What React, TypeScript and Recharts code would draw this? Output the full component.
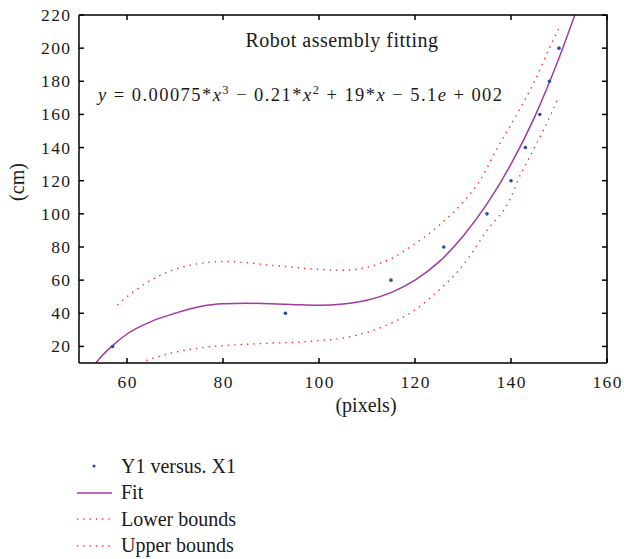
import { ComposedChart, Legend, Line, Scatter, XAxis, YAxis } from "recharts";

const FONT = "'Liberation Serif', 'Times New Roman', serif";

// measured points (Y1 versus X1)
const pointX = [57, 93, 115, 126, 135, 140, 143, 146, 148, 150];
const pointY = [20, 40, 60, 80, 100, 120, 140, 160, 180, 200];

// cubic fit
const fitX = [53.5, 55, 57, 60, 65, 70, 75, 80, 85, 90, 95, 100, 105, 110, 115, 120, 125, 130, 135, 140, 145, 150, 153.3];
const fitY = [10, 15, 20.5, 27.5, 35, 40, 44, 45.8, 46, 45.8, 45.2, 44.8, 45.6, 47.9, 52.5, 60, 71, 86.5, 106, 130, 159, 194, 220];

// prediction bounds
const lowerX = [64, 65, 70, 75, 80, 85, 90, 95, 100, 105, 110, 115, 120, 125, 130, 135, 140, 141.4, 144.9, 148.3, 150];
const lowerY = [11.5, 12.5, 16.5, 19, 20.5, 21.3, 22, 22.5, 23.5, 25, 28.5, 34, 42, 54, 69, 90, 110, 120, 140, 160, 171];
const upperX = [58, 60, 65, 70, 75, 80, 85, 90, 95, 100, 105, 110, 115, 120, 125, 130, 133.5, 137.2, 141.2, 144.9, 148, 150.3];
const upperY = [45, 50, 60, 66.5, 70, 71.3, 70.5, 69, 67.7, 66.5, 66, 67.7, 73, 82, 93, 107, 120, 140, 160, 180, 200, 214];

const xTicks = [60, 80, 100, 120, 140, 160];
const yTicks = [20, 40, 60, 80, 100, 120, 140, 160, 180, 200, 220];
const xDomain = [50, 160];
const yDomain = [10, 220];
const legendOrder = ["Y1 versus. X1", "Fit", "Lower bounds", "Upper bounds"];

const zip = (xs: number[], ys: number[]) => xs.map((x, i) => ({ x, y: ys[i] }));

const points = zip(pointX, pointY);
const fit = zip(fitX, fitY);
const lower = zip(lowerX, lowerY);
const upper = zip(upperX, upperY);

// layout
const W = 624;
const H = 559;
const MARGIN = { top: 15, right: 17, bottom: 166, left: 0 };
const Y_AXIS_W = 79;
const X_AXIS_H = 30;
const PLOT_LEFT = MARGIN.left + Y_AXIS_W;
const PLOT_TOP = MARGIN.top;
const PLOT_W = W - MARGIN.left - MARGIN.right - Y_AXIS_W;
const PLOT_H = H - MARGIN.top - MARGIN.bottom - X_AXIS_H;

const BottomTick = ({ x, y, payload }: any) => (
  <g>
    <line x1={x} y1={y} x2={x} y2={y - 5} stroke="#000" strokeWidth={1.5} />
    <text x={x + 0.7} y={y + 25} textAnchor="middle" fontSize={17.5} letterSpacing={1.4} fontFamily={FONT} fill="#1a1a1a">
      {payload.value}
    </text>
  </g>
);

const LeftTick = ({ x, y, payload }: any) => (
  <g>
    <line x1={x} y1={y} x2={x + 5} y2={y} stroke="#000" strokeWidth={1.5} />
    <text x={x - 7.5} y={y + 6} textAnchor="end" fontSize={17.5} letterSpacing={1.4} fontFamily={FONT} fill="#1a1a1a">
      {payload.value}
    </text>
  </g>
);

const XLabel = ({ viewBox }: any) => (
  <text
    x={viewBox.x + viewBox.width / 2 + 23}
    y={viewBox.y + 49}
    textAnchor="middle"
    fontSize={20}
    fontFamily={FONT}
    fill="#1a1a1a"
  >
    (pixels)
  </text>
);

const YLabel = ({ viewBox }: any) => {
  const cx = viewBox.x + 24;
  const cy = viewBox.y + viewBox.height / 2 - 7;
  return (
    <text x={cx} y={cy} transform={`rotate(-90, ${cx}, ${cy})`} textAnchor="middle" fontSize={20} fontFamily={FONT} fill="#1a1a1a">
      (cm)
    </text>
  );
};

const Dot = ({ cx, cy }: any) => <circle cx={cx} cy={cy} r={1.8} fill="#2b4aa8" />;

const LegendBox = ({ payload }: any) => {
  const items = [...(payload || [])].sort((a: any, b: any) => legendOrder.indexOf(a.value) - legendOrder.indexOf(b.value));
  return (
    <div style={{ fontFamily: FONT, fontSize: 20, color: "#1a1a1a" }}>
      {items.map((entry: any) => (
        <div key={entry.value} style={{ display: "flex", alignItems: "center", height: 26.5 }}>
          <svg width={44} height={10} style={{ marginRight: 3 }}>
            {entry.type === "circle" ? (
              <circle cx={20} cy={5} r={1.6} fill={entry.color} />
            ) : entry.type === "line" ? (
              <line x1={3} y1={5} x2={38} y2={5} stroke={entry.color} strokeWidth={1.6} />
            ) : (
              <line x1={3} y1={5} x2={38} y2={5} stroke={entry.color} strokeWidth={1.3} strokeDasharray="1.3 5" />
            )}
          </svg>
          <span>{entry.value}</span>
        </div>
      ))}
    </div>
  );
};

// top and right edges of the box with their inward ticks, as an svg layer over the chart
const BoxEdges = () => {
  const sx = (v: number) => PLOT_LEFT + ((v - xDomain[0]) / (xDomain[1] - xDomain[0])) * PLOT_W;
  const sy = (v: number) => PLOT_TOP + PLOT_H - ((v - yDomain[0]) / (yDomain[1] - yDomain[0])) * PLOT_H;
  const right = PLOT_LEFT + PLOT_W;
  return (
    <svg width={W} height={H} style={{ position: "absolute", left: 0, top: 0, pointerEvents: "none" }}>
      <path d={`M${PLOT_LEFT},${PLOT_TOP}H${right}V${PLOT_TOP + PLOT_H}`} fill="none" stroke="#000" strokeWidth={1.6} />
      {xTicks.map((t) => (
        <line key={`t${t}`} x1={sx(t)} y1={PLOT_TOP} x2={sx(t)} y2={PLOT_TOP + 5} stroke="#000" strokeWidth={1.5} />
      ))}
      {yTicks.map((t) => (
        <line key={`r${t}`} x1={right} y1={sy(t)} x2={right - 5} y2={sy(t)} stroke="#000" strokeWidth={1.5} />
      ))}
    </svg>
  );
};

export default function App() {
  return (
    <div style={{ position: "absolute", left: 0, top: 0, width: W, height: H, background: "#fff" }}>
      <ComposedChart width={W} height={H} margin={MARGIN}>
        <XAxis
          dataKey="x"
          type="number"
          domain={xDomain}
          ticks={xTicks}
          interval={0}
          allowDataOverflow
          height={X_AXIS_H}
          tickSize={0}
          tickMargin={0}
          tickLine={false}
          tick={BottomTick}
          axisLine={{ stroke: "#000", strokeWidth: 1.5 }}
          label={{ content: XLabel }}
        />
        <YAxis
          type="number"
          domain={yDomain}
          ticks={yTicks}
          interval={0}
          allowDataOverflow
          width={Y_AXIS_W}
          tickSize={0}
          tickMargin={0}
          tickLine={false}
          tick={LeftTick}
          axisLine={{ stroke: "#000", strokeWidth: 1.5 }}
          label={{ content: YLabel }}
        />
        <Legend
          layout="vertical"
          align="center"
          verticalAlign="middle"
          wrapperStyle={{ left: 74, top: 453, width: 300 }}
          content={LegendBox}
        />
        <Line name="Fit" data={fit} dataKey="y" type="monotone" stroke="#a03aa0" strokeWidth={1.5} dot={false} legendType="line" isAnimationActive={false} />
        <Line name="Lower bounds" data={lower} dataKey="y" type="monotone" stroke="#ff2a2a" strokeWidth={1.4} strokeDasharray="1.4 5" dot={false} legendType="plainline" isAnimationActive={false} />
        <Line name="Upper bounds" data={upper} dataKey="y" type="monotone" stroke="#ff2a2a" strokeWidth={1.4} strokeDasharray="1.4 5" dot={false} legendType="plainline" isAnimationActive={false} />
        <Scatter name="Y1 versus. X1" data={points} dataKey="y" fill="#2b4aa8" legendType="circle" shape={Dot} isAnimationActive={false} />
      </ComposedChart>
      <BoxEdges />
      <div
        style={{
          position: "absolute",
          left: 342,
          top: 29,
          transform: "translateX(-50%)",
          whiteSpace: "nowrap",
          fontFamily: FONT,
          fontSize: 20,
          letterSpacing: 0.5,
          color: "#1a1a1a",
        }}
      >
        Robot assembly fitting
      </div>
      <div
        style={{
          position: "absolute",
          left: 98,
          top: 85,
          whiteSpace: "nowrap",
          fontFamily: FONT,
          fontSize: 18.5,
          letterSpacing: 1.45,
          color: "#1a1a1a",
        }}
      >
        <i>y</i> = 0.00075*<i>x</i>
        <sup style={{ fontSize: 12.5, lineHeight: 0 }}>3</sup> − 0.21*<i>x</i>
        <sup style={{ fontSize: 12.5, lineHeight: 0 }}>2</sup> + 19*<i>x</i> − 5.1<i>e</i> + 002
      </div>
    </div>
  );
}
